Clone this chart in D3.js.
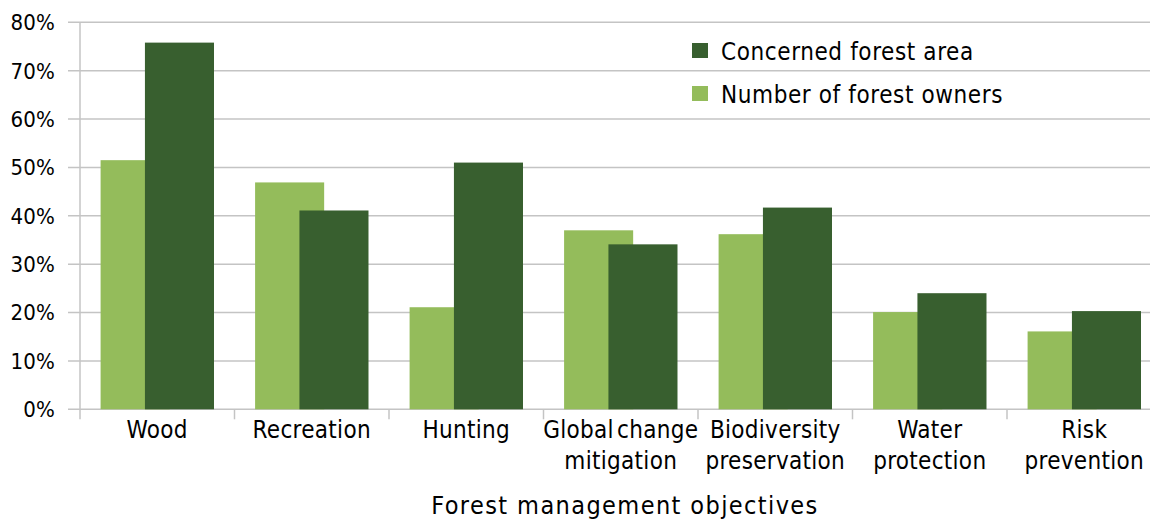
<!DOCTYPE html>
<html><head><meta charset="utf-8">
<script src="https://cdn.jsdelivr.net/npm/d3@7"></script>
<style>
body{margin:0;background:#fff;}
text{font-family:"DejaVu Sans Condensed","DejaVu Sans",sans-serif;fill:#000;}
</style></head>
<body><svg id="chart" width="1150" height="520"></svg>
<script>
const categories = [["Wood"],["Recreation"],["Hunting"],["Global change","mitigation"],["Biodiversity","preservation"],["Water","protection"],["Risk","prevention"]];
const ownersValues = [51.5, 46.9, 21.1, 37.0, 36.2, 20.1, 16.1];
const areaValues = [75.8, 41.1, 51.0, 34.1, 41.7, 24.0, 20.3];
const yTicks = [0,10,20,30,40,50,60,70,80];
const seriesNames = ["Concerned forest area","Number of forest owners"];
const colors = {light:"#94bc5b", dark:"#385f2f", grid:"#c4c4c4"};

const svg = d3.select("#chart");
const pLeft = 80, pRight = 1161.5, pTop = 22.3, pBottom = 409.3;
const x = d3.scaleBand().domain(d3.range(categories.length)).range([pLeft, pRight]).padding(0);
const y = d3.scaleLinear().domain([0,80]).range([pBottom, pTop]);
const bw = x.bandwidth();
const barW = bw*0.447;
const offLight = bw*0.5 - bw*0.3667;
const offDark = offLight + barW*0.642;

svg.append("g").selectAll("line").data(yTicks).join("line")
  .attr("x1", 68).attr("x2", 1150)
  .attr("y1", d=>y(d)).attr("y2", d=>y(d))
  .attr("stroke", colors.grid).attr("stroke-width", 1.5);
svg.append("line").attr("x1",pLeft).attr("x2",pLeft).attr("y1",pTop).attr("y2",pBottom)
  .attr("stroke", colors.grid).attr("stroke-width",1.5);
svg.append("g").selectAll("line").data(d3.range(categories.length+1)).join("line")
  .attr("x1", d=>pLeft+d*bw).attr("x2", d=>pLeft+d*bw)
  .attr("y1", pBottom).attr("y2", pBottom+10)
  .attr("stroke", colors.grid).attr("stroke-width",1.5);

svg.append("g").selectAll("text").data(yTicks).join("text")
  .attr("x", 55).attr("y", d=>y(d)).attr("dy","0.36em")
  .attr("text-anchor","end").attr("font-size",22).attr("letter-spacing","0.2px")
  .text(d=>d+"%");

svg.append("g").selectAll("rect").data(ownersValues).join("rect")
  .attr("x",(d,i)=>x(i)+offLight).attr("width",barW)
  .attr("y",d=>y(d)).attr("height",d=>pBottom-y(d))
  .attr("fill",colors.light);
svg.append("g").selectAll("rect").data(areaValues).join("rect")
  .attr("x",(d,i)=>x(i)+offDark).attr("width",barW)
  .attr("y",d=>y(d)).attr("height",d=>pBottom-y(d))
  .attr("fill",colors.dark);

const cl = svg.append("g").selectAll("text").data(categories).join("text")
  .attr("text-anchor","middle").attr("font-size",24).attr("letter-spacing","0.3px")
  .attr("word-spacing","-4px")
  .attr("transform",(d,i)=>`translate(${x(i)+bw/2},0)`);
cl.selectAll("tspan").data(d=>d).join("tspan")
  .attr("x",0).attr("y",(d,j)=>438+j*31).text(d=>d);

svg.append("text").attr("x",625).attr("y",514).attr("text-anchor","middle")
  .attr("font-size",25).attr("letter-spacing","1.4px").text("Forest management objectives");

const leg = svg.append("g").selectAll("g").data(seriesNames).join("g")
  .attr("transform",(d,i)=>`translate(692,${43+i*43})`);
leg.append("rect").attr("width",16).attr("height",15)
  .attr("fill",(d,i)=>i===0?colors.dark:colors.light);
leg.append("text").attr("x",29).attr("y",8).attr("dy","0.36em").attr("font-size",24)
  .attr("letter-spacing","0.6px").text(d=>d);
</script></body></html>
